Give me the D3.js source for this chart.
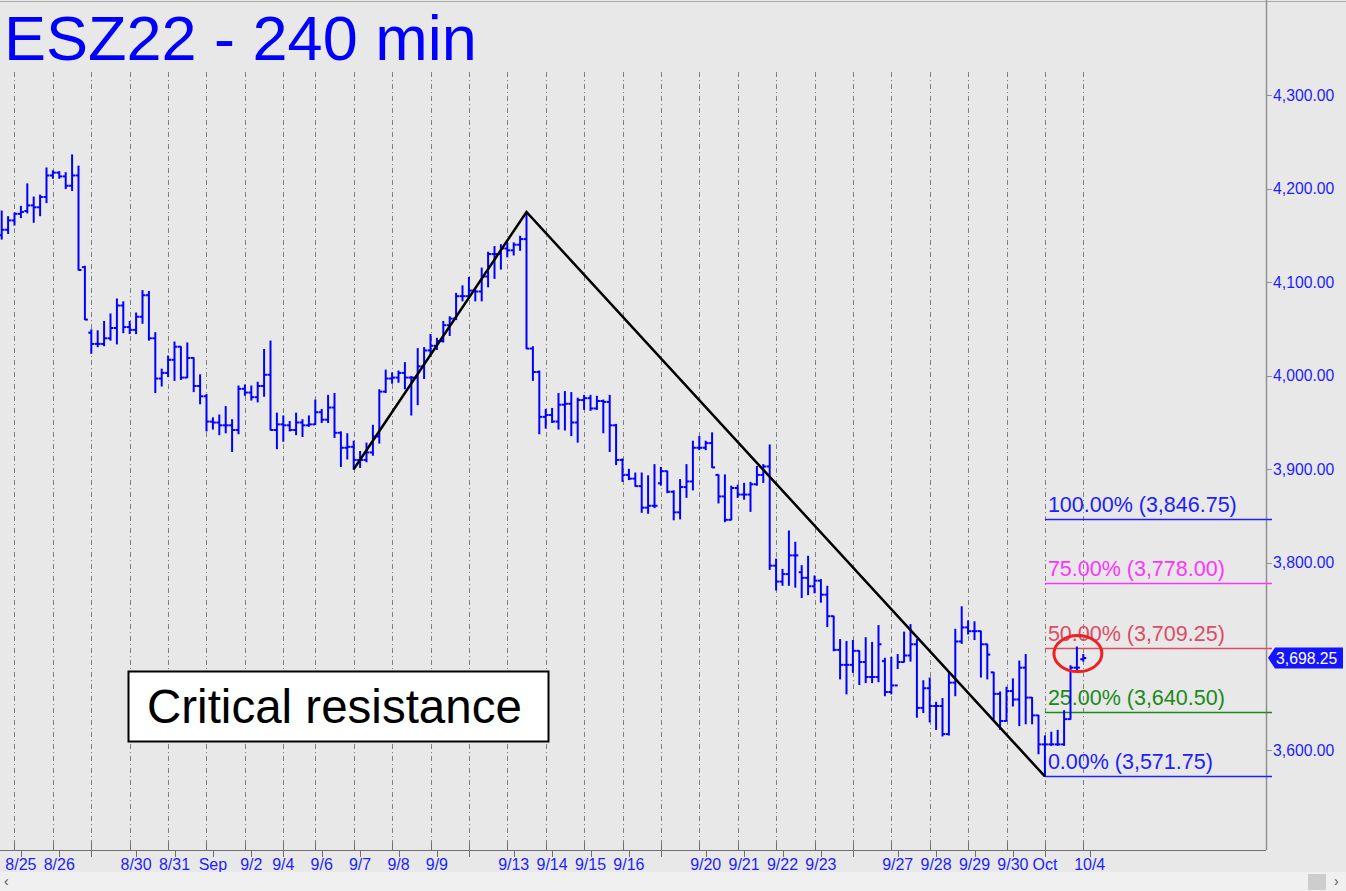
<!DOCTYPE html>
<meta charset="utf-8">
<script src="https://d3js.org/d3.v7.min.js"></script>
<style>
  body { margin: 0; background: #e8e8e8; }
  svg { display: block; font-family: Arial, "Liberation Sans", sans-serif; }
</style>
<body>
<div id="chart"></div>
<script>
// 240 min OHLC bars, one entry per bar
var opens = [4150,4156,4166,4173,4176,4182,4180,4191,4214,4217,4213,4203,4214,4116,4046,4034,4034,4040,4051,4075,
  4052,4049,4063,4086,4040,3997,4003,4017,4031,3998,4019,3989,3978,3951,3950,3947,3947,3942,3986,3982,
  3977,3989,4001,3942,3948,3947,3942,3950,3947,3948,3961,3953,3966,3939,3923,3924,3910,3910,3918,3935,
  3983,3997,3998,4003,3998,3998,4010,4027,4032,4037,4054,4061,4085,4085,4091,4090,4106,4130,4130,4136,
  4134,4140,4146,4029,4004,3956,3958,3951,3969,3970,3950,3974,3976,3965,3973,3972,3947,3910,3894,3890,
  3882,3859,3861,3885,3898,3876,3854,3881,3887,3923,3923,3928,3894,3871,3846,3880,3873,3873,3884,3894,
  3903,3797,3780,3788,3808,3790,3784,3775,3781,3766,3743,3707,3691,3691,3706,3694,3678,3678,3695,3662,
  3669,3694,3701,3713,3645,3666,3647,3647,3617,3672,3716,3731,3727,3727,3713,3683,3660,3631,3663,3654,
  3688,3656,3637,3606,3606,3606,3606,3633,3688,3697];
var highs = [4176,4170,4174,4181,4205,4191,4193,4222,4219,4218,4217,4236,4224,4117,4049,4048,4058,4066,4082,4079,
  4058,4067,4091,4090,4046,4007,4021,4036,4031,4035,4019,4001,3980,3955,3958,3967,3953,3989,3990,3989,
  3993,4028,4037,3960,3957,3951,3960,3953,3957,3974,3964,3979,3981,3940,3938,3930,3919,3928,3947,3985,
  4006,4003,4005,4014,3999,4029,4030,4044,4040,4058,4063,4088,4096,4105,4092,4115,4132,4138,4140,4142,
  4142,4149,4174,4031,4005,3964,3965,3981,3983,3982,3976,3979,3979,3978,3974,3979,3948,3911,3900,3896,
  3896,3893,3905,3902,3898,3877,3889,3905,3930,3935,3930,3939,3894,3894,3882,3883,3885,3886,3903,3905,
  3926,3804,3793,3834,3822,3797,3807,3786,3782,3775,3743,3718,3716,3717,3706,3720,3715,3733,3698,3699,
  3702,3726,3734,3718,3674,3677,3651,3655,3683,3729,3753,3738,3737,3727,3713,3683,3662,3667,3676,3695,
  3702,3656,3637,3615,3619,3621,3642,3690,3710,3702];
var lows = [4146,4152,4161,4169,4174,4164,4171,4185,4211,4211,4200,4198,4113,4060,4024,4031,4032,4038,4034,4046,
  4045,4045,4056,4038,3982,3989,3999,3995,3996,3998,3983,3970,3941,3943,3937,3939,3919,3938,3979,3974,
  3972,3978,3942,3922,3930,3941,3937,3935,3946,3948,3950,3950,3934,3903,3911,3900,3902,3908,3915,3928,
  3982,3992,3993,3986,3958,3969,3997,4021,4028,4036,4043,4060,4080,4084,4080,4080,4095,4104,4114,4127,
  4129,4134,4029,3995,3938,3944,3950,3943,3942,3936,3929,3964,3963,3964,3939,3919,3905,3887,3889,3882,
  3854,3853,3859,3883,3875,3846,3847,3870,3878,3921,3921,3902,3864,3844,3846,3870,3868,3855,3883,3886,
  3793,3771,3776,3776,3774,3763,3766,3768,3758,3732,3706,3676,3660,3683,3670,3672,3672,3673,3658,3660,
  3687,3694,3695,3635,3640,3630,3622,3615,3616,3658,3714,3724,3718,3678,3676,3633,3622,3631,3647,3626,
  3628,3628,3596,3572,3605,3605,3605,3633,3685,3695];
var closes = [4156,4166,4173,4175,4182,4180,4191,4214,4217,4213,4203,4214,4113,4060,4034,4034,4040,4051,4075,4052,
  4049,4063,4086,4040,3997,4003,4017,4031,3998,4019,3989,3978,3951,3950,3947,3947,3942,3986,3982,3977,
  3989,4001,3942,3948,3947,3942,3950,3947,3948,3961,3953,3966,3939,3923,3924,3910,3910,3918,3935,3983,
  3997,3998,4003,3998,3998,4010,4027,4032,4037,4054,4061,4085,4085,4091,4090,4106,4130,4130,4136,4134,
  4140,4146,4029,4004,3956,3958,3951,3969,3970,3950,3974,3976,3965,3973,3972,3947,3910,3894,3890,3882,
  3859,3861,3861,3898,3876,3854,3881,3887,3923,3923,3928,3902,3871,3846,3880,3873,3873,3884,3894,3903,
  3797,3780,3788,3808,3808,3784,3775,3781,3766,3743,3707,3691,3691,3706,3694,3678,3678,3713,3662,3669,
  3694,3701,3713,3645,3666,3647,3647,3617,3672,3716,3731,3727,3727,3713,3702,3660,3631,3663,3654,3688,
  3656,3637,3606,3606,3606,3606,3633,3688,3688,3698.25];

// session separators (bar index where each day starts) and date labels
var dayBars = [2,8,14,20,26,32,38,44,49,55,61,67,73,79,85,91,97,103,109,115,121,127,133,139,145,151,157,163,169];
var mondayBars = [14,73,103,133];
var labelBars = [3,9,21,27,33,39,44,50,56,62,68,80,86,92,98,110,116,122,128,140,146,152,158,163,170];
var labelText = ["8/25","8/26","8/30","8/31","Sep","9/2","9/4","9/6","9/7","9/8","9/9","9/13","9/14","9/15","9/16",
  "9/20","9/21","9/22","9/23","9/27","9/28","9/29","9/30","Oct","10/4"];

// 3,700.00 sits under the last price marker, so it is left out
var priceTicks = [3600,3800,3900,4000,4100,4200,4300];

// fibonacci retracement
var fibPct = ["0.00%","25.00%","50.00%","75.00%","100.00%"];
var fibVal = [3571.75,3640.50,3709.25,3778.00,3846.75];
var fibColor = ["#2020ff","#1a8a1a","#dc4c64","#ff33ff","#2020ff"];

// hand drawn trend lines
var pivotBar = [55,82,163];
var pivotVal = [3900,4175,3571.75];

var lastPrice = 3698.25;

var W = 1346, H = 891, axisX = 1266, axisY = 850;

var svg = d3.select("#chart").append("svg")
  .attr("width", W).attr("height", H);

svg.append("rect").attr("width", W).attr("height", H).attr("fill", "#e8e8e8");

var x = d3.scaleLinear().domain([0, 169]).range([1.7, 1083.3]);
var y = d3.scaleLinear().domain([3600, 4300]).range([750, 95]);
var fmt = d3.format(",.2f");

// top frame line
svg.append("line").attr("x1", 0).attr("x2", W).attr("y1", 1.5).attr("y2", 1.5)
  .attr("stroke", "#a8a8a8");

// day grid
svg.append("g").selectAll("line").data(dayBars).enter().append("line")
  .attr("x1", d => Math.round(x(d)) + 0.5).attr("x2", d => Math.round(x(d)) + 0.5)
  .attr("y1", 72).attr("y2", axisY)
  .attr("stroke", "#808080").attr("stroke-dasharray", "5,3,1,3");

// bottom axis
var bx = svg.append("g");
bx.append("line").attr("x1", 0).attr("x2", axisX).attr("y1", axisY + 0.5).attr("y2", axisY + 0.5)
  .attr("stroke", "#707070");
bx.selectAll(".tu").data(dayBars).enter().append("line")
  .attr("x1", d => Math.round(x(d)) + 0.5).attr("x2", d => Math.round(x(d)) + 0.5)
  .attr("y1", axisY - 7).attr("y2", axisY).attr("stroke", "#707070");
bx.selectAll(".tm").data(mondayBars).enter().append("line")
  .attr("x1", d => Math.round(x(d)) + 0.5).attr("x2", d => Math.round(x(d)) + 0.5)
  .attr("y1", axisY).attr("y2", axisY + 7).attr("stroke", "#707070");
bx.selectAll(".td").data(labelBars).enter().append("line")
  .attr("x1", d => Math.round(x(d)) + 0.5).attr("x2", d => Math.round(x(d)) + 0.5)
  .attr("y1", axisY).attr("y2", axisY + 7).attr("stroke", "#707070");
bx.selectAll("text").data(labelBars).enter().append("text")
  .attr("x", d => x(d)).attr("y", axisY + 20)
  .attr("text-anchor", "middle").attr("font-size", 16).attr("fill", "#1e1eff")
  .text((d, i) => labelText[i]);

// scrollbar strip
svg.append("rect").attr("x", 0).attr("y", 872).attr("width", W).attr("height", H - 872)
  .attr("fill", "#f0f0f0");
svg.append("text").attr("x", 4).attr("y", 886).attr("font-size", 14).attr("fill", "#555").text("\u2039");
svg.append("rect").attr("x", 1308).attr("y", 874).attr("width", 18).attr("height", 16).attr("fill", "#cdcdcd");
svg.append("text").attr("x", 1334).attr("y", 886).attr("font-size", 14).attr("fill", "#555").text("\u203a");

// right price axis
var ay = svg.append("g");
ay.append("line").attr("x1", axisX + 0.5).attr("x2", axisX + 0.5).attr("y1", 0).attr("y2", axisY)
  .attr("stroke", "#909090").attr("stroke-width", 1.5);
ay.selectAll("line.t").data(priceTicks).enter().append("line")
  .attr("x1", axisX).attr("x2", axisX + 6)
  .attr("y1", d => Math.round(y(d)) + 0.5).attr("y2", d => Math.round(y(d)) + 0.5)
  .attr("stroke", "#909090");
ay.selectAll("text").data(priceTicks).enter().append("text")
  .attr("x", axisX + 7).attr("y", d => y(d) + 5.5)
  .attr("font-size", 15.75).attr("fill", "#1e1eff")
  .text(d => fmt(d));

// fib levels
var fib = svg.append("g");
fibVal.forEach(function(v, i) {
  fib.append("line").attr("x1", x(163)).attr("x2", axisX + 6)
    .attr("y1", Math.round(y(v)) + 0.5).attr("y2", Math.round(y(v)) + 0.5)
    .attr("stroke", fibColor[i]).attr("stroke-width", 1.5);
  fib.append("text").attr("x", x(163) + 3).attr("y", y(v) - 7)
    .attr("font-size", 21.5).attr("fill", fibColor[i])
    .text(fibPct[i] + " (" + fmt(v) + ")");
});

// OHLC bars
var bars = svg.append("g").attr("stroke", "#0000ff").attr("stroke-width", 2).attr("fill", "none");
closes.forEach(function(c, i) {
  var cx = x(i);
  bars.append("line").attr("x1", cx).attr("x2", cx).attr("y1", y(highs[i]) - 0.5).attr("y2", y(lows[i]) + 0.5);
  bars.append("line").attr("x1", cx - 3).attr("x2", cx).attr("y1", y(opens[i])).attr("y2", y(opens[i]));
  bars.append("line").attr("x1", cx).attr("x2", cx + 3).attr("y1", y(c)).attr("y2", y(c));
});

// trend lines
svg.append("path")
  .datum(pivotBar.map((b, i) => [x(b), y(pivotVal[i])]))
  .attr("d", d3.line())
  .attr("fill", "none").attr("stroke", "#000").attr("stroke-width", 2.5);

// circle around the last bars
svg.append("ellipse").attr("cx", x(168) + 1).attr("cy", y(3703))
  .attr("rx", 24).attr("ry", 18)
  .attr("fill", "none").attr("stroke", "#ee2020").attr("stroke-width", 3);

// last price marker
var ly = y(lastPrice);
svg.append("path")
  .attr("d", "M" + (axisX + 2) + "," + ly + "L" + (axisX + 9) + "," + (ly - 10.5) + "H1343V" + (ly + 10.5) + "H" + (axisX + 9) + "Z")
  .attr("fill", "#1414ff");
svg.append("text").attr("x", axisX + 10).attr("y", ly + 6)
  .attr("font-size", 15.75).attr("fill", "#fff").text(fmt(lastPrice));

// title
svg.append("text").attr("x", 4).attr("y", 60)
  .attr("font-size", 63).attr("fill", "#0000ff").text("ESZ22 - 240 min");

// annotation box
svg.append("rect").attr("x", 128.5).attr("y", 671.5).attr("width", 420).attr("height", 70)
  .attr("fill", "#ffffff").attr("stroke", "#000").attr("stroke-width", 2);
svg.append("text").attr("x", 147).attr("y", 723)
  .attr("font-size", 47.5).attr("fill", "#000").text("Critical resistance");
</script>
</body>
